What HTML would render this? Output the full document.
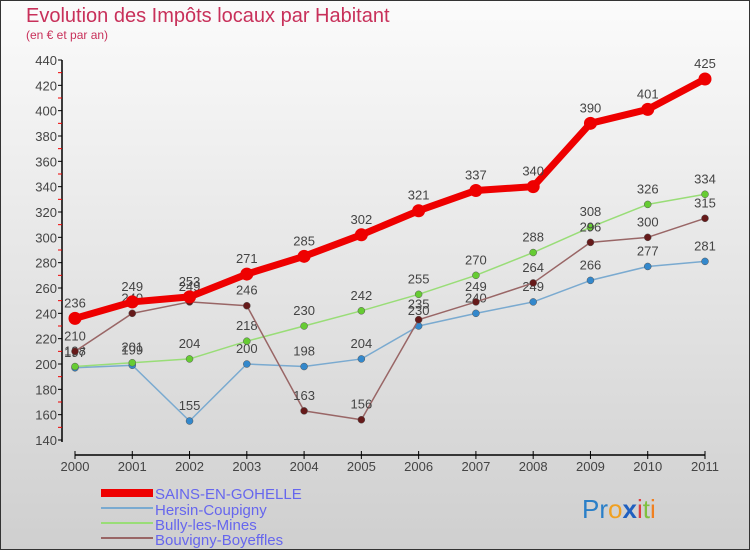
<!DOCTYPE html>
<html><head><meta charset="utf-8"><style>
body{margin:0}
#c{width:750px;height:550px;position:relative;background:linear-gradient(#fbfbfb,#cfcfcf);box-sizing:border-box;border:1px solid #333;overflow:hidden;font-family:"Liberation Sans",sans-serif}
</style></head><body>
<div id="c">
<svg id="s" width="750" height="550" style="position:absolute;left:-1px;top:-1px">
<text x="26" y="22" font-size="20" fill="#c8305a">Evolution des Impôts locaux par Habitant</text>
<text x="26" y="39" font-size="12" fill="#c8305a">(en € et par an)</text>
<g id="ax"></g><g id="ser"></g>
<g font-size="15" fill="#6666ee">
<rect x="101" y="489" width="52" height="8" fill="#ee0000"/>
<text x="155" y="499">SAINS-EN-GOHELLE</text>
<rect x="101" y="507" width="52" height="2" fill="#7aaad0"/>
<text x="155" y="515">Hersin-Coupigny</text>
<rect x="101" y="522" width="52" height="2" fill="#99dd77"/>
<text x="155" y="530">Bully-les-Mines</text>
<rect x="101" y="537" width="52" height="2" fill="#996666"/>
<text x="155" y="545">Bouvigny-Boyeffles</text>
</g>
<text x="582" y="518" font-size="26"><tspan fill="#2a7fc8">Pr</tspan><tspan fill="#f0a020">o</tspan><tspan fill="#2060c0" font-weight="bold">x</tspan><tspan fill="#e04040">i</tspan><tspan fill="#80c040">t</tspan><tspan fill="#f08020">i</tspan></text>
</svg></div>
<script>
const years=["2000","2001","2002","2003","2004","2005","2006","2007","2008","2009","2010","2011"];
const yTicks=[140,160,180,200,220,240,260,280,300,320,340,360,380,400,420,440];
const sains=[236,249,253,271,285,302,321,337,340,390,401,425];
const hersin=[197,199,155,200,198,204,230,240,249,266,277,281];
const bully=[198,201,204,218,230,242,255,270,288,308,326,334];
const bouvigny=[210,240,249,246,163,156,235,249,264,296,300,315];
const NS="http://www.w3.org/2000/svg";
const X=i=>75+i*(630/11), Y=v=>440-(v-140)*(380/300);
function el(t,a,p){const e=document.createElementNS(NS,t);for(const k in a)e.setAttribute(k,a[k]);p.appendChild(e);return e;}
const ax=document.getElementById('ax');
let yl=el('line',{x1:62,y1:60,x2:62,y2:442,stroke:'#000','stroke-width':1.5},ax);

yTicks.forEach(v=>{el('line',{x1:58,x2:62,y1:Y(v),y2:Y(v),stroke:'#000'},ax);
 if(v<440)el('line',{x1:58,x2:62,y1:Y(v+10),y2:Y(v+10),stroke:'#e00'},ax);
 const t=el('text',{x:57,y:Y(v)+5,'text-anchor':'end','font-size':13,fill:'#444'},ax);t.textContent=v;
 });
let xl=el('line',{x1:75,y1:455,x2:705,y2:455,stroke:'#000','stroke-width':1.5},ax);

years.forEach((y,i)=>{el('line',{x1:X(i),x2:X(i),y1:451,y2:459,stroke:'#000'},ax);
 const t=el('text',{x:X(i),y:471,'text-anchor':'middle','font-size':13,fill:'#444'},ax);t.textContent=y;
 });
const ser=document.getElementById('ser');
function draw(d,name,col,dot,w,r){const g=el('g',{},ser);
 
 el('polyline',{points:d.map((v,i)=>X(i)+','+Y(v)).join(' '),fill:'none',stroke:col,'stroke-width':w,'stroke-linejoin':'round'},g);
 d.forEach((v,i)=>{el('circle',{cx:X(i),cy:Y(v),r:r,fill:dot,stroke:w>3?'none':'#555','stroke-width':0.5},g);
  const t=el('text',{x:X(i),y:Y(v)-11,'text-anchor':'middle','font-size':13,fill:'#444'},g);t.textContent=v;});}
draw(hersin,'series-hersin-coupigny','#7aaad0','#3388cc',1.5,3.5);
draw(bully,'series-bully-les-mines','#99dd77','#66cc33',1.5,3.5);
draw(bouvigny,'series-bouvigny-boyeffles','#996666','#661a1a',1.5,3.5);
draw(sains,'series-sains-en-gohelle','#ee0000','#ee0000',7,6.5);
</script>
</body></html>
